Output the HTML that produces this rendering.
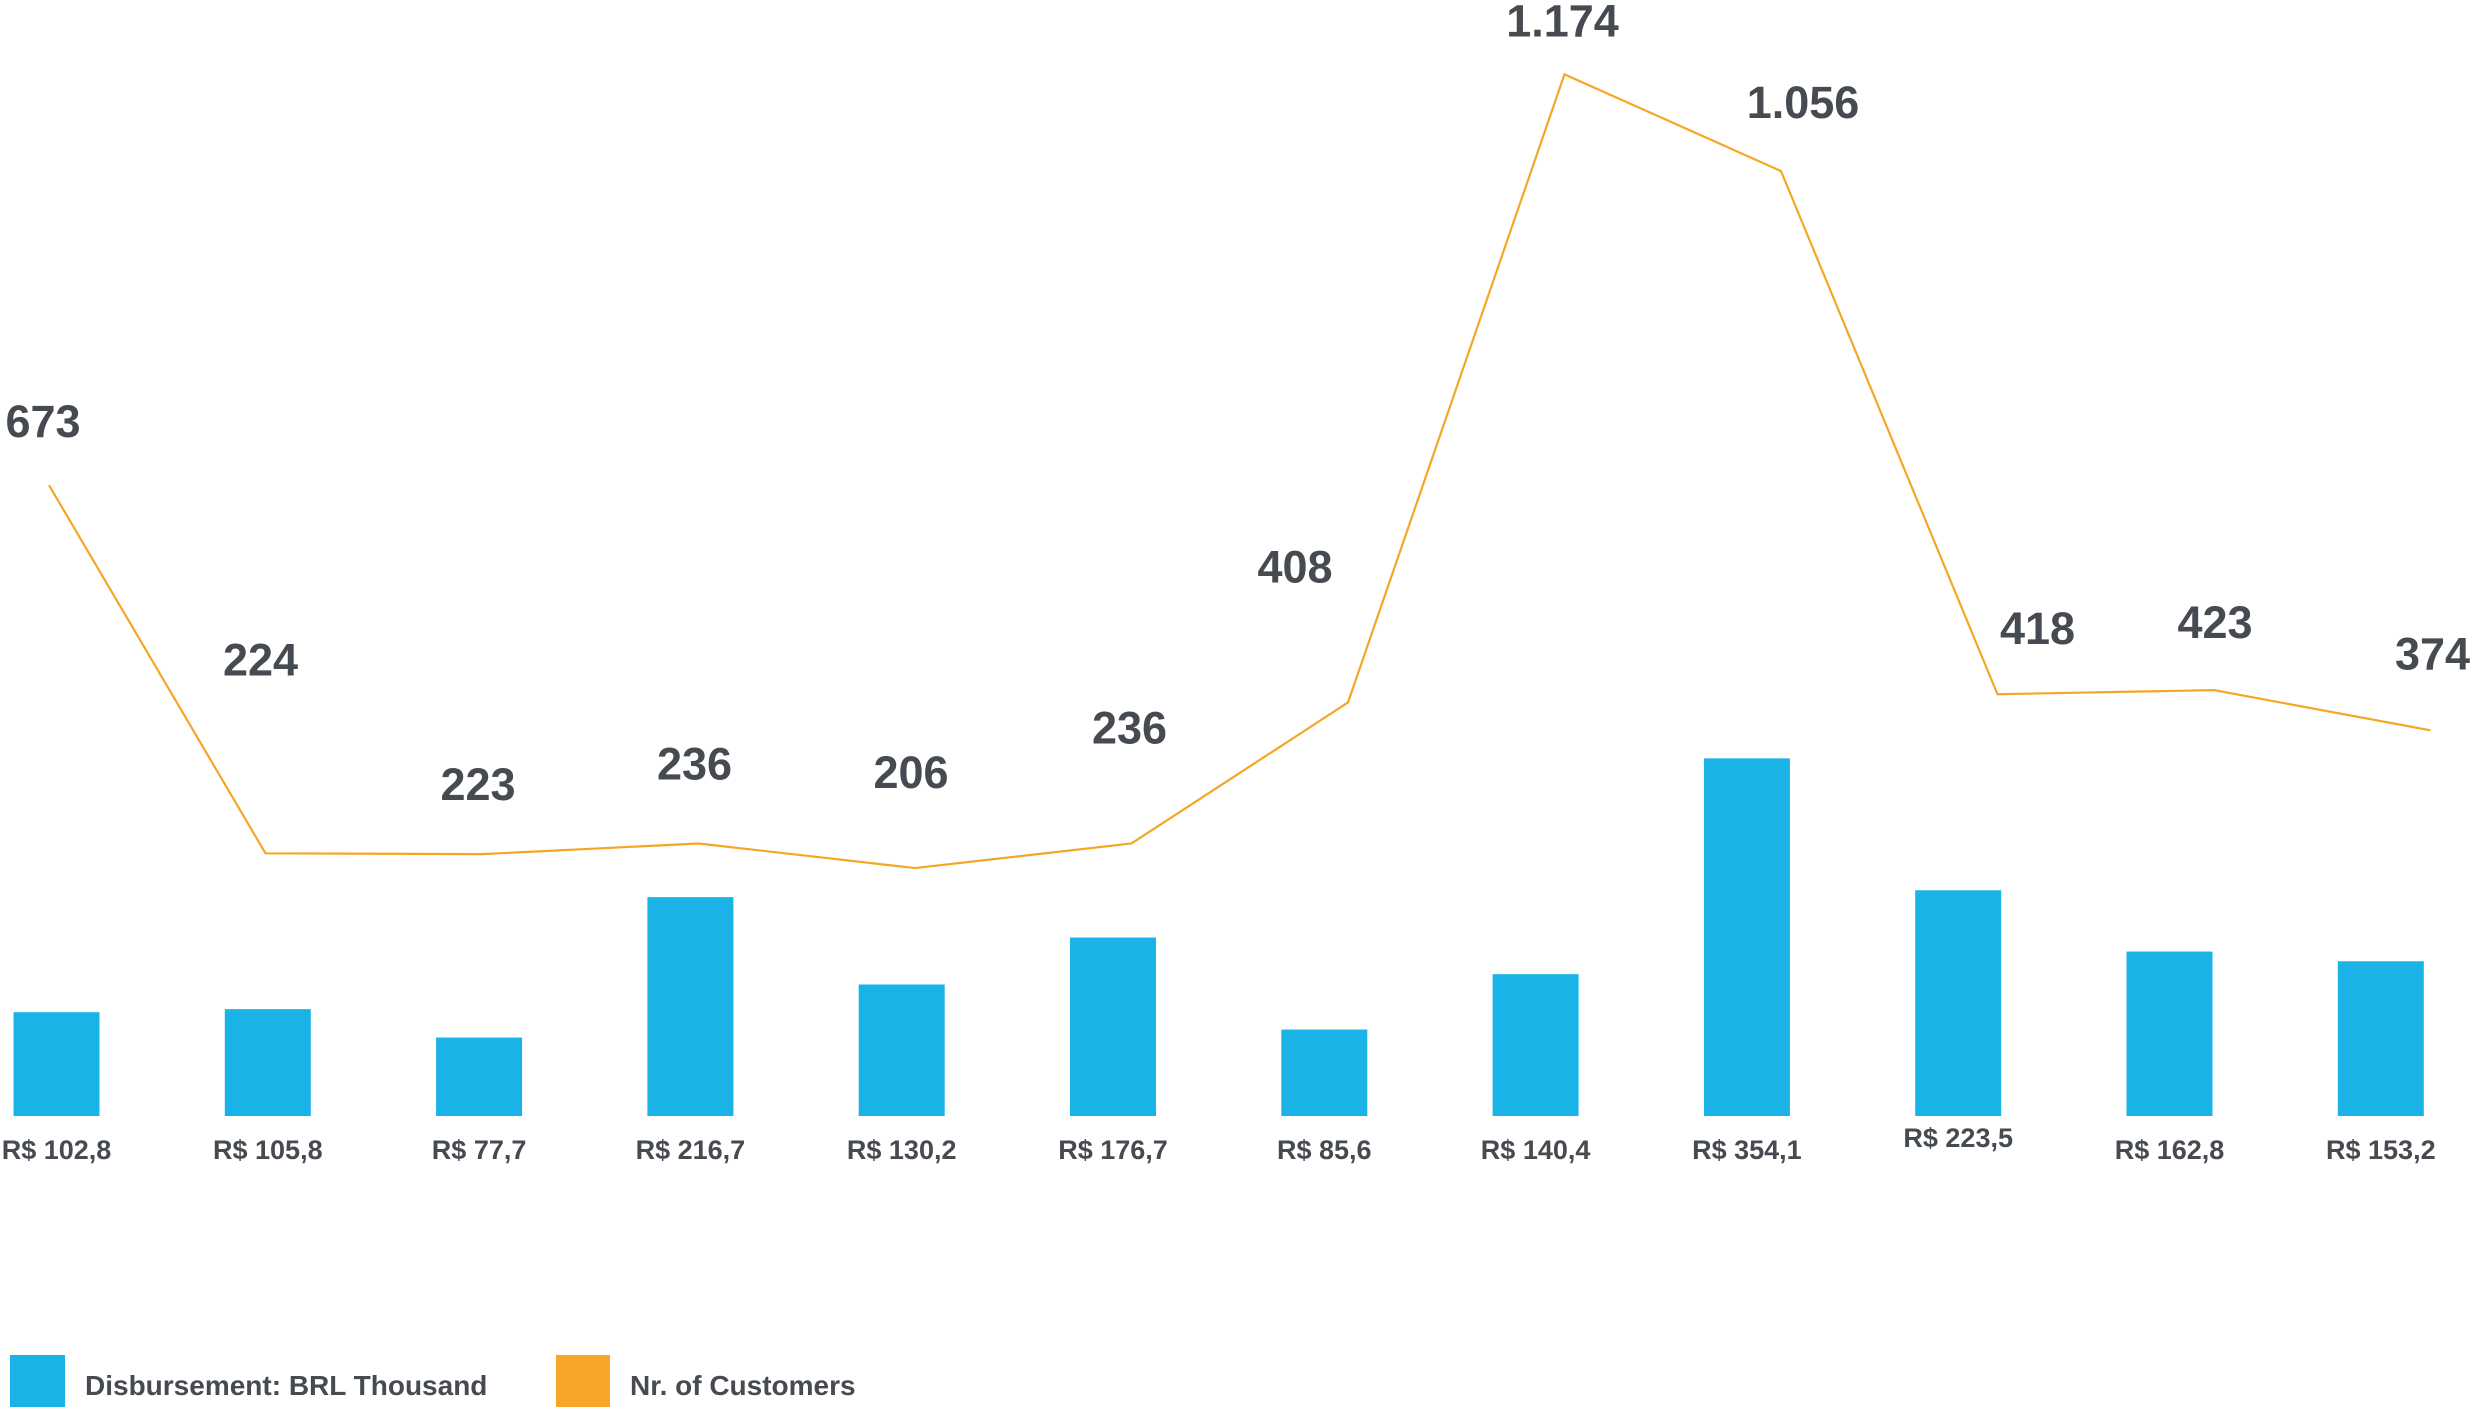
<!DOCTYPE html>
<html><head><meta charset="utf-8"><style>
html,body{margin:0;padding:0;background:#fff;}
svg{display:block;font-family:"Liberation Sans",Arial,sans-serif;}
</style></head><body>
<svg id="chart" width="2472" height="1412" viewBox="0 0 2472 1412">
<g id="bars"></g>
<g id="barLabels"></g>
<polyline id="line" fill="none" stroke="#f5a623" stroke-width="2.2" stroke-linejoin="miter"></polyline>
<g id="lineLabels"></g>
<g>
<rect x="10" y="1355" width="55" height="52" fill="#1ab3e8"/>
<text x="85" y="1395" font-size="28" font-weight="bold" fill="#464a51">Disbursement: BRL Thousand</text>
<rect x="556" y="1355" width="54" height="52" fill="#f9a52a"/>
<text x="630" y="1395" font-size="28" font-weight="bold" fill="#464a51">Nr. of Customers</text>
</g>
</svg>
<script>
const disbursement = [102.8, 105.8, 77.7, 216.7, 130.2, 176.7, 85.6, 140.4, 354.1, 223.5, 162.8, 153.2];
const disbursementLabels = ["R$ 102,8","R$ 105,8","R$ 77,7","R$ 216,7","R$ 130,2","R$ 176,7","R$ 85,6","R$ 140,4","R$ 354,1","R$ 223,5","R$ 162,8","R$ 153,2"];
const customers = [673, 224, 223, 236, 206, 236, 408, 1174, 1056, 418, 423, 374];
const customerLabels = ["673","224","223","236","206","236","408","1.174","1.056","418","423","374"];
const labelDx = [-6,-5,-4,-4,-4,-2,-53,-2,22,40,1,2];
const labelDy = [-48,-178,-54,-64,-80,-100,-120,-38,-53,-50,-52,-61];

const NS = "http://www.w3.org/2000/svg";
const barX = i => 56.5 + i * 211.3;
const barY = v => 1116 - v * 1.01;
const lineX = i => 49 + i * 216.5;
const lineY = v => 1037 - v * 0.82;
const bw = 86;

const gB = document.getElementById('bars');
const gBL = document.getElementById('barLabels');
disbursement.forEach((v, i) => {
  const r = document.createElementNS(NS, 'rect');
  
  
  r.setAttribute('x', barX(i) - bw / 2);
  r.setAttribute('y', barY(v));
  r.setAttribute('width', bw);
  r.setAttribute('height', 1116 - barY(v));
  r.setAttribute('fill', '#1ab3e8');
  gB.appendChild(r);
  const t = document.createElementNS(NS, 'text');
  
  
  t.setAttribute('x', barX(i));
  t.setAttribute('y', i === 9 ? 1147 : 1159);
  t.setAttribute('text-anchor', 'middle');
  t.setAttribute('font-size', '27');
  t.setAttribute('font-weight', 'bold');
  t.setAttribute('fill', '#464a51');
  t.textContent = disbursementLabels[i];
  gBL.appendChild(t);
});

document.getElementById('line').setAttribute('points', customers.map((v, i) => lineX(i) + ',' + lineY(v)).join(' '));
const gLL = document.getElementById('lineLabels');
customers.forEach((v, i) => {
  const t = document.createElementNS(NS, 'text');
  
  
  t.setAttribute('x', lineX(i) + labelDx[i]);
  t.setAttribute('y', lineY(v) + labelDy[i]);
  t.setAttribute('text-anchor', 'middle');
  t.setAttribute('font-size', '45');
  t.setAttribute('font-weight', 'bold');
  t.setAttribute('fill', '#464a51');
  t.textContent = customerLabels[i];
  gLL.appendChild(t);
});
</script>
</body></html>
